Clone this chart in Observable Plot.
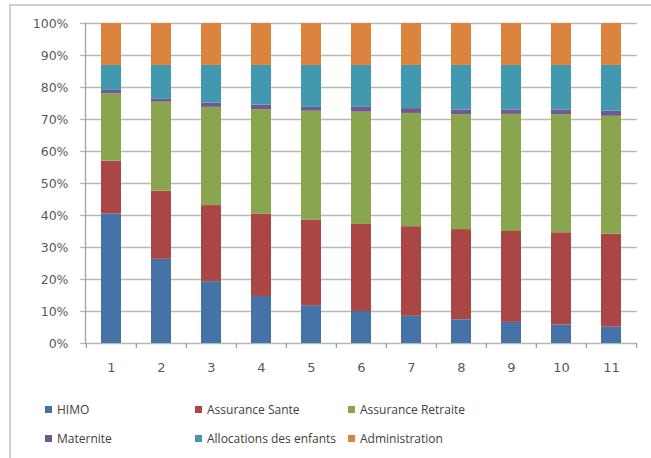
<!DOCTYPE html>
<html>
<head>
<meta charset="utf-8">
<script src="https://cdn.jsdelivr.net/npm/d3@7"></script>
<script src="https://cdn.jsdelivr.net/npm/@observablehq/plot@0.6"></script>
<style>
  html, body { margin: 0; padding: 0; background: #fff; }
  #wrap { position: relative; width: 651px; height: 458px; overflow: hidden; }
  #border { position: absolute; left: 9px; top: 4px; right: -5px; bottom: -5px;
            border-top: 2px solid #d0d0d0; border-left: 2px solid #d0d0d0; }
  #chart { position: absolute; left: 0; top: 0; }
  .leg { position: absolute; display: flex; align-items: center; gap: 5px;
         font-family: "Open Sans", sans-serif; font-size: 12px; color: #404040; white-space: nowrap; }
  .sw { width: 7px; height: 7px; }
</style>
</head>
<body>
<div id="wrap">
  <div id="border"></div>
  <div id="chart"></div>
</div>
<script>
const categories = ["1","2","3","4","5","6","7","8","9","10","11"];
const seriesNames = ["HIMO","Assurance Sante","Assurance Retraite","Maternite","Allocations des enfants","Administration"];
const seriesColors = ["#4572a7","#aa4643","#89a54e","#71588f","#4198af","#db843d"];
const himo        = [40.5, 26.3, 19.3, 14.7, 11.8, 10.0, 8.5, 7.4, 6.6, 5.8, 5.1];
const sante       = [16.5, 21.3, 23.8, 25.8, 26.8, 27.2, 28.0, 28.2, 28.4, 28.8, 29.1];
const retraite    = [21.0, 27.8, 30.7, 32.5, 34.0, 35.1, 35.4, 35.9, 36.6, 36.9, 36.8];
const maternite   = [1.1, 0.9, 1.3, 1.5, 1.2, 1.5, 1.5, 1.5, 1.4, 1.5, 1.6];
const allocations = [7.8, 10.6, 11.8, 12.4, 13.1, 13.1, 13.5, 13.9, 13.9, 13.9, 14.3];
const administration = [13.1, 13.1, 13.1, 13.1, 13.1, 13.1, 13.1, 13.1, 13.1, 13.1, 13.1];
const yTicks = [0,10,20,30,40,50,60,70,80,90,100];

const seriesValues = [himo, sante, retraite, maternite, allocations, administration];
const rows = categories.flatMap((c, i) => seriesNames.map((s, j) => ({cat: c, series: s, value: seriesValues[j][i]})));

const W = 651, H = 385, ML = 85, MR = 14, MT = 23, MB = 42;
const step = (W - ML - MR) / categories.length;
const gridColor = "#b8b8b8";

const chart = Plot.plot({
  width: W, height: H,
  marginLeft: ML, marginRight: MR, marginTop: MT, marginBottom: MB,
  style: {fontFamily: "DejaVu Sans, sans-serif", fontSize: "12.5px", color: "#5a5a5a", background: "transparent"},
  x: {domain: categories, paddingInner: 0.6, paddingOuter: 0.3, label: null},
  y: {domain: [0, 100], percent: true, label: null},
  color: {domain: seriesNames, range: seriesColors},
  marks: [
    Plot.gridY({ticks: yTicks, stroke: gridColor, strokeOpacity: 1, strokeWidth: 1.3}),
    Plot.barY(rows, Plot.stackY({offset: "normalize"}, {x: "cat", y: "value", fill: "series"})),
    Plot.frame({anchor: "left", stroke: "#a0a0a0", strokeWidth: 1.3}),
    Plot.axisY({ticks: yTicks, tickFormat: d => Math.round(d) + "%", tickSize: 5, tickPadding: 12, stroke: gridColor, strokeWidth: 1.3, label: null}),
    Plot.axisX({tickSize: 5, dx: -step / 2, tickFormat: () => "", stroke: "#a0a0a0", strokeWidth: 1.3, label: null}),
    Plot.axisX({ticks: [categories[categories.length - 1]], tickSize: 5, dx: step / 2, tickFormat: () => "", stroke: "#a0a0a0", strokeWidth: 1.3, label: null}),
    Plot.axisX({tickSize: 0, tickPadding: 19, fontSize: 13, label: null})
  ]
});
document.getElementById("chart").appendChild(chart);

const wrap = document.getElementById("wrap");
const colX = [45, 195, 348];
const rowY = [409, 438];
seriesNames.forEach((name, i) => {
  const d = document.createElement("div");
  d.className = "leg";
  d.style.left = colX[i % 3] + "px";
  d.style.top = (rowY[Math.floor(i / 3)] - 8) + "px";
  d.style.height = "16px";
  const sw = document.createElement("span");
  sw.className = "sw";
  sw.style.background = seriesColors[i];
  const t = document.createElement("span");
  t.textContent = name;
  d.appendChild(sw); d.appendChild(t);
  wrap.appendChild(d);
});
</script>
</body>
</html>
